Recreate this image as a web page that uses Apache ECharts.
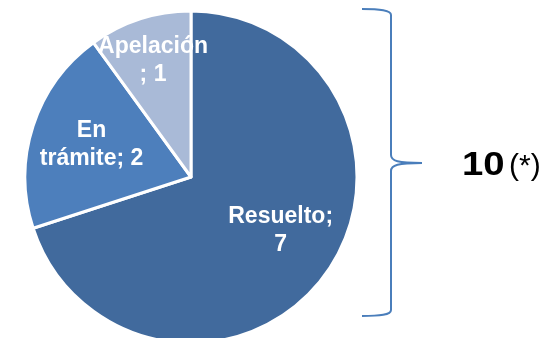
<!DOCTYPE html>
<html>
<head>
<meta charset="utf-8">
<script src="https://cdn.jsdelivr.net/npm/echarts@6/dist/echarts.min.js"></script>
<style>
  html, body { margin: 0; padding: 0; background: #fff; }
  #chart { width: 544px; height: 338px; }
</style>
</head>
<body>
<div id="chart"></div>
<script>
const categories = ["Resuelto", "En trámite", "Apelación"];
const values = [7, 2, 1];
const totalLabel = "10";
const totalNote = "(*)";

const colors = ["#416A9D", "#4D7FBC", "#A9BAD7"];
const center = [191, 177];
const radius = 166;
// where each label sits: share of the radius, and a small turn (deg) off the slice middle
const labelRatio = [0.63, 0.63, 0.74];
const labelTurn = [-5, 0, 0];

function labelText(index, name, value) {
  if (index === 0) {
    return name + ";\n" + value;
  }
  if (index === 1) {
    return name.replace(" ", "\n") + "; " + value;
  }
  return name + "\n; " + value;
}

const total = values.reduce((a, b) => a + b, 0);

function labelPoint(index) {
  let before = 0;
  for (let i = 0; i < index; i += 1) {
    before += values[i];
  }
  const theta = ((before + values[index] / 2) / total) * Math.PI * 2 + (labelTurn[index] * Math.PI) / 180;
  const r = radius * labelRatio[index];
  return [center[0] + r * Math.sin(theta), center[1] - r * Math.cos(theta)];
}

const braceStyle = { fill: null, stroke: "#4A7EBB", lineWidth: 2 };

function curve(x1, y1, cx1, cy1, cx2, cy2, x2, y2) {
  return {
    type: "bezierCurve",
    shape: { x1, y1, cpx1: cx1, cpy1: cy1, cpx2: cx2, cpy2: cy2, x2, y2 },
    style: braceStyle
  };
}

function line(x1, y1, x2, y2) {
  return { type: "line", shape: { x1, y1, x2, y2 }, style: braceStyle };
}

const chart = echarts.init(document.getElementById("chart"), null, { renderer: "canvas" });

chart.setOption({
  animation: false,
  series: [
    {
      type: "pie",
      center: center,
      radius: [0, radius],
      startAngle: 90,
      clockwise: true,
      data: categories.map((name, i) => ({
        name,
        value: values[i],
        itemStyle: { color: colors[i] }
      })),
      itemStyle: { borderColor: "#fff", borderWidth: 3 },
      label: {
        show: true,
        position: "inside",
        color: "#fff",
        fontFamily: "Liberation Sans, Arial, sans-serif",
        fontWeight: "bold",
        fontSize: 23,
        lineHeight: 28,
        align: "center",
        formatter: (p) => labelText(p.dataIndex, p.name, p.value)
      },
      labelLine: { show: false },
      labelLayout: (params) => {
        const pt = labelPoint(params.dataIndex);
        return { x: pt[0], y: pt[1], align: "center", verticalAlign: "middle" };
      },
      emphasis: { disabled: true }
    }
  ],
  graphic: [
    curve(362, 9, 380, 9, 391, 10, 391, 15),
    line(391, 15, 391, 155),
    curve(391, 155, 391, 161, 398, 163, 422, 163),
    curve(422, 163, 398, 163, 391, 165, 391, 171),
    line(391, 171, 391, 310),
    curve(391, 310, 391, 315, 380, 316, 362, 316),
    {
      type: "text",
      x: 462,
      y: 166,
      scaleX: 1.16,
      style: {
        text: totalLabel,
        fontFamily: "Liberation Sans, Arial, sans-serif",
        fontWeight: "bold",
        fontSize: 33,
        fill: "#000",
        verticalAlign: "middle"
      }
    },
    {
      type: "text",
      x: 509,
      y: 167,
      style: {
        text: totalNote,
        fontFamily: "Liberation Sans, Arial, sans-serif",
        fontSize: 30,
        fill: "#000",
        verticalAlign: "middle"
      }
    }
  ]
});
</script>
</body>
</html>
